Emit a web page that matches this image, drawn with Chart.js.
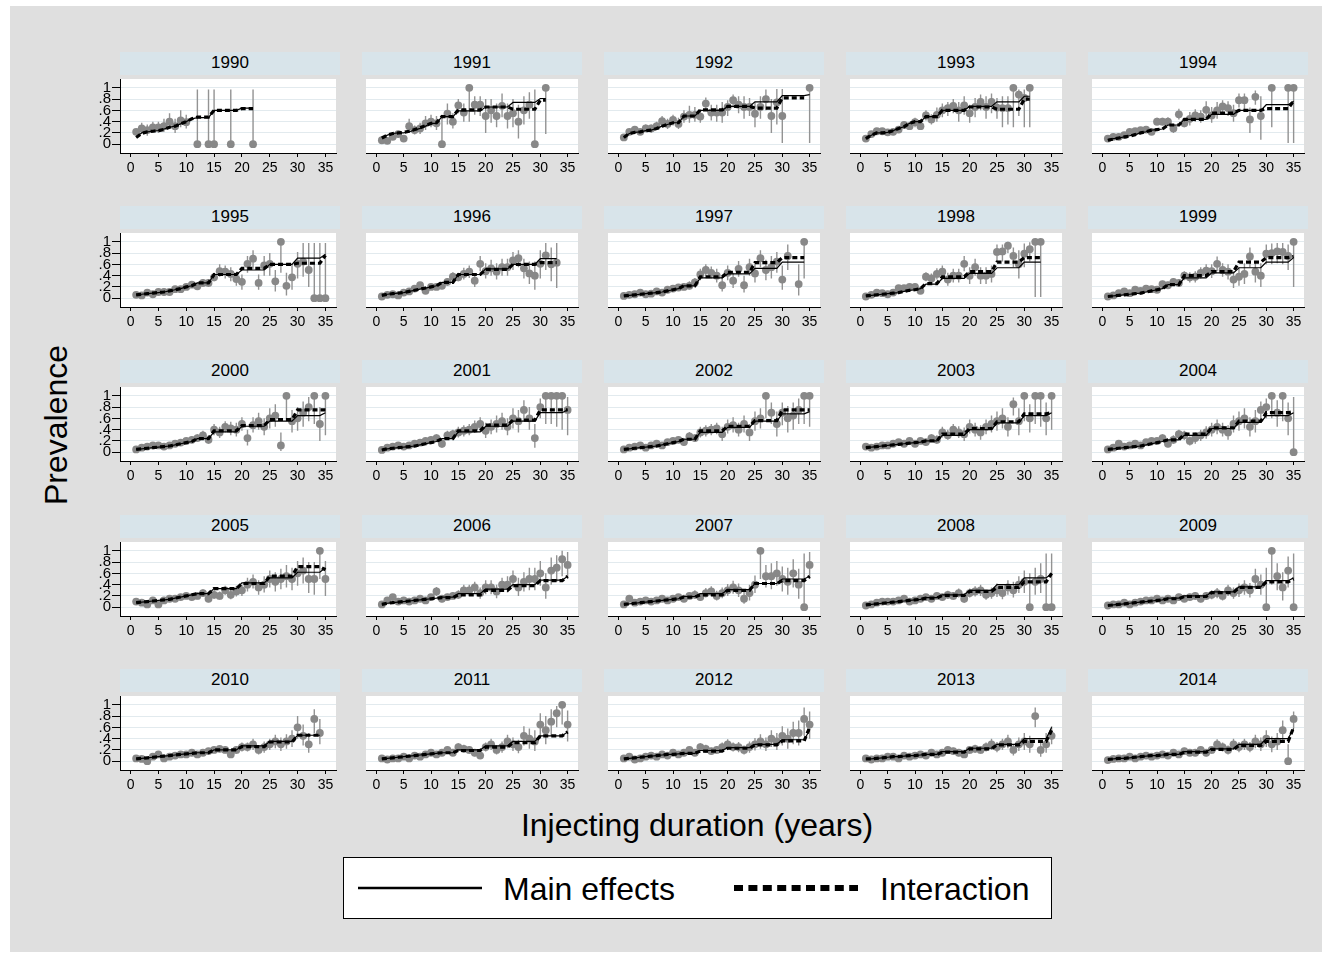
<!DOCTYPE html>
<html>
<head>
<meta charset="utf-8">
<title>Prevalence by injecting duration and year</title>
<script src="https://cdn.jsdelivr.net/npm/chart.js@4.4.1/dist/chart.umd.min.js"></script>
<style>
  html, body { margin: 0; padding: 0; background: #ffffff; }
  body { width: 1332px; height: 958px; position: relative; overflow: hidden;
         font-family: "Liberation Sans", Arial, Helvetica, sans-serif; color: #000; }
  #frame { position: absolute; left: 10px; top: 6px; width: 1312px; height: 946px; background: #dfdfdf; }
  .hdr { position: absolute; height: 23px; width: 220px; background: #d8e4ea; text-align: center;
         font-size: 17px; line-height: 21px; }
  canvas { position: absolute; }
  #ytitle { position: absolute; left: 56px; top: 425px; font-size: 32px; white-space: nowrap;
            transform: translate(-50%, -50%) rotate(-90deg); line-height: 1; }
  #xtitle { position: absolute; left: 697px; top: 825px; font-size: 32px; white-space: nowrap;
            transform: translate(-50%, -50%); line-height: 1; }
  #legend { position: absolute; left: 343px; top: 857px; width: 709px; height: 62px; box-sizing: border-box;
            background: #fff; border: 1px solid #000; }
  #legend svg { position: absolute; left: 0; top: 0; }
  #legend .lt { position: absolute; top: 31px; font-size: 32px; line-height: 1; transform: translateY(-50%); white-space: nowrap; }
</style>
</head>
<body>
<div id="frame"></div>
<div id="panels"></div>
<div id="ytitle">Prevalence</div>
<div id="xtitle">Injecting duration (years)</div>
<div id="legend">
  <svg width="709" height="62">
    <line x1="14" y1="30" x2="138" y2="30" stroke="#000" stroke-width="2.5"/>
    <line x1="390" y1="30" x2="514" y2="30" stroke="#000" stroke-width="6" stroke-dasharray="9 5.4"/>
  </svg>
  <div class="lt" style="left:159px">Main effects</div>
  <div class="lt" style="left:536px">Interaction</div>
</div>
<script>
// Survey years, one small panel each
const years = [1990, 1991, 1992, 1993, 1994, 1995, 1996, 1997, 1998, 1999,
               2000, 2001, 2002, 2003, 2004, 2005, 2006, 2007, 2008, 2009,
               2010, 2011, 2012, 2013, 2014];

// Axis ticks
const xTicks = [0, 5, 10, 15, 20, 25, 30, 35];
const yTicks = [0, 0.2, 0.4, 0.6, 0.8, 1];
const yTickLabels = ['0', '.2', '.4', '.6', '.8', '1'];

// Injecting-duration bands used by the fitted models (years)
const bandStart = [1, 2, 3, 4, 5, 6, 7, 8, 9, 10, 11, 12, 15, 20, 25, 30, 35];
const bandEnd   = [1, 2, 3, 4, 5, 6, 7, 8, 9, 10, 11, 14, 19, 24, 29, 34, 35];

// Observed prevalence (%) by duration 1..35, one row per year
const observedPct = [
  [22,28,25,30,30,32,40,32,42,39,null,0,null,0,0,null,null,0,null,null,null,0],
  [7,6,13,18,10,32,25,28,37,40,37,0,54,40,69,56,100,70,70,50,60,50,68,50,55,40,60,70,0,null,100],
  [12,22,26,22,28,28,32,41,36,43,36,49,52,52,49,72,56,56,56,66,78,70,66,66,54,66,80,50,74,50,null,null,null,null,100],
  [10,18,23,23,21,22,26,34,32,39,32,51,44,52,60,64,68,60,69,55,66,75,66,75,65,64,64,100,88,82,100],
  [10,13,13,16,22,23,25,26,22,40,40,40,28,53,37,45,51,49,61,51,60,67,64,55,78,78,44,84,50,null,100,null,null,100,100],
  [6,5,10,7,11,11,11,16,16,20,24,21,27,27,37,48,47,43,34,29,61,70,27,58,61,30,100,22,37,61,65,50,0,0,0],
  [3,6,7,5,10,12,17,23,13,20,20,22,29,38,37,43,47,31,61,48,53,47,55,55,67,71,53,44,40,61,76,60,63],
  [4,6,7,10,7,8,12,10,15,17,19,20,22,28,42,50,45,40,23,45,31,52,23,55,44,71,50,55,65,33,75,null,25,100],
  [3,6,10,9,7,10,18,18,20,20,13,38,35,43,47,33,40,40,61,40,55,40,40,43,82,83,93,75,60,79,87,100,100],
  [3,5,9,12,9,15,13,17,16,15,25,23,29,27,40,37,38,45,49,48,61,50,47,33,38,43,74,47,40,79,80,83,82,75,100],
  [5,8,10,12,12,10,12,15,17,20,22,25,30,22,40,35,45,42,40,50,25,48,55,45,60,65,12,100,55,60,70,80,100,50,100],
  [4,8,10,12,10,12,15,17,20,22,25,15,30,32,35,38,40,45,50,38,45,50,55,45,60,55,75,60,25,80,100,100,100,100,75],
  [5,8,10,12,8,12,15,12,18,20,22,18,28,25,35,38,40,42,32,45,48,40,50,35,55,60,100,70,50,70,60,65,75,100,100],
  [10,8,10,12,12,15,18,15,20,15,20,18,25,22,35,30,40,35,32,45,40,35,45,50,55,60,45,85,55,100,60,100,100,60,100],
  [5,8,15,10,12,15,12,18,20,20,25,15,22,32,30,20,25,30,35,40,45,40,35,50,55,60,45,55,75,80,100,70,100,60,0],
  [10,8,5,12,5,12,15,15,18,20,18,20,25,15,22,20,30,22,28,30,40,45,35,40,50,45,50,55,50,60,65,50,50,100,50],
  [5,12,18,10,12,10,12,15,12,18,28,15,18,20,22,30,30,35,25,35,35,28,40,40,50,35,45,50,50,60,35,65,70,85,75],
  [5,15,8,10,12,10,12,15,12,15,18,15,20,22,18,25,28,20,25,30,35,30,15,25,40,100,55,55,60,50,45,60,40,0,75],
  [3,5,8,10,10,10,12,15,10,12,15,18,15,20,18,22,20,25,15,25,28,30,22,25,30,25,35,30,40,45,0,45,50,0,0],
  [3,5,5,8,5,8,10,12,12,15,12,15,12,18,15,18,20,15,20,22,25,20,30,25,30,35,30,50,40,0,100,55,35,65,0],
  [5,4,0,8,12,5,8,10,12,12,15,12,15,18,20,22,20,12,20,25,25,30,20,25,30,35,30,35,40,60,45,30,75,50],
  [5,3,5,5,8,5,10,8,12,15,12,15,20,15,25,22,20,15,10,25,30,20,25,35,30,25,45,40,35,65,55,70,85,100,65],
  [5,8,3,5,8,10,8,12,10,15,12,15,20,15,25,22,18,20,25,30,25,25,20,25,30,35,30,40,35,45,40,50,50,75,65],
  [5,3,5,5,8,8,5,10,8,10,12,10,15,12,15,20,18,15,12,20,22,20,25,30,25,30,35,20,30,35,30,80,20,30,45],
  [2,4,5,5,8,5,8,10,8,10,12,10,15,12,18,15,15,20,15,20,30,25,20,30,25,30,25,35,30,40,30,35,55,0,75]
];

// Lower 95% confidence limit (%)
const lowerPct = [
  [17,20,15,20,20,22,30,20,30,28,null,0,null,0,0,null,null,0,null,null,null,0],
  [4,3,8,12,5,22,17,18,25,30,25,0,35,28,55,40,40,52,50,20,38,30,48,28,30,10,35,45,0,null,18],
  [8,17,20,17,22,20,25,32,27,33,27,38,38,40,38,60,42,40,38,50,65,55,45,50,30,45,60,20,35,2,null,null,null,null,2],
  [7,14,19,19,17,18,21,28,25,30,25,42,35,40,48,50,55,40,52,38,48,60,45,55,45,30,35,30,50,30,30],
  [7,10,10,12,18,19,20,21,17,33,33,32,20,44,30,33,40,38,45,38,45,55,50,40,65,62,20,70,8,null,30,null,null,2,2],
  [4,3,7,4,8,8,8,12,12,15,18,16,20,20,30,38,35,30,22,15,45,52,15,40,40,12,45,5,15,35,38,20,0,0,0],
  [1,4,4,3,7,9,13,18,9,15,15,16,22,30,30,33,36,20,48,35,40,33,40,40,50,55,35,25,15,35,50,30,18],
  [2,4,4,7,4,5,8,6,10,12,14,14,16,20,32,40,35,28,12,32,18,38,10,40,28,55,32,35,45,15,50,null,5,35],
  [1,4,7,6,4,7,13,13,15,15,8,30,26,33,36,22,28,28,48,25,40,25,25,28,65,65,80,55,35,55,65,2,2],
  [1,3,6,9,6,11,9,12,11,10,19,17,22,20,32,28,28,35,38,36,48,38,33,18,22,25,55,28,20,60,60,62,60,50,20],
  [3,5,7,9,9,7,8,11,12,15,16,18,22,15,30,25,35,30,28,38,12,35,40,30,42,45,2,55,35,38,45,55,50,20,30],
  [2,5,7,9,7,8,11,12,15,16,18,8,22,24,26,28,30,34,38,25,32,35,40,30,42,35,55,40,8,60,50,50,45,40,30],
  [3,5,7,9,5,8,11,8,13,15,16,12,20,18,26,28,30,32,20,33,35,28,35,20,38,42,60,50,28,48,35,40,50,50,45],
  [7,5,7,9,9,11,14,11,15,10,14,12,18,15,26,22,30,25,20,33,28,22,32,35,38,42,28,65,30,55,35,50,45,30,40],
  [3,5,11,7,9,11,8,13,15,15,18,9,15,24,22,12,15,20,24,28,32,28,22,35,38,42,28,35,55,60,60,45,55,30,0],
  [7,5,3,9,3,8,11,11,13,15,13,14,18,9,15,13,22,14,19,20,28,33,22,26,35,28,32,35,30,38,42,25,22,50,20],
  [3,8,13,7,9,7,8,11,8,13,20,9,12,14,15,20,20,25,15,23,23,16,28,26,35,20,28,30,30,38,15,40,45,55,50],
  [3,10,5,7,9,7,8,11,8,10,13,10,14,15,12,17,20,12,16,20,24,18,6,12,25,50,35,32,38,28,22,35,15,0,50],
  [1,3,5,7,7,7,8,11,7,8,11,13,10,14,12,15,13,17,8,17,19,20,13,15,18,14,22,17,25,25,0,22,25,0,0],
  [1,3,3,5,3,5,7,8,8,11,8,10,7,12,10,12,13,9,13,14,16,12,20,15,18,22,17,32,22,0,40,30,12,35,0],
  [3,2,0,5,8,3,5,7,8,8,11,8,10,13,14,16,14,7,13,17,17,20,12,15,20,23,18,22,25,40,28,15,50,30],
  [3,1,3,3,5,3,7,5,8,11,8,10,14,10,18,15,13,9,5,17,20,12,15,23,18,14,28,22,18,40,30,45,60,65,35],
  [3,5,1,3,5,7,5,8,7,11,8,10,14,10,18,15,12,13,17,21,17,16,12,15,19,22,18,25,20,28,22,30,28,45,40],
  [3,1,3,3,5,5,3,7,5,7,8,7,10,8,10,14,12,9,7,13,15,13,17,20,16,20,23,10,18,20,15,60,8,15,30],
  [1,2,3,3,5,3,5,7,5,7,8,7,10,8,12,10,10,14,9,13,21,17,12,20,16,20,16,23,18,25,16,20,38,0,58]
];

// Upper 95% confidence limit (%)
const upperPct = [
  [27,38,35,40,40,45,55,45,60,52,null,97,null,97,97,null,null,97,null,null,null,97],
  [11,10,18,24,15,45,33,38,50,52,50,52,72,55,80,72,100,85,85,80,80,72,90,72,80,70,85,92,97,null,100],
  [16,27,32,27,35,35,40,50,45,52,47,60,68,66,62,83,70,70,75,78,88,85,85,82,75,85,97,80,98,98,null,null,null,null,100],
  [13,22,27,27,25,26,31,40,40,47,40,60,53,65,72,75,80,75,85,70,82,88,85,90,82,85,85,100,97,97,100],
  [13,16,16,20,26,27,30,31,27,47,47,48,36,63,45,57,62,60,76,66,75,78,76,70,90,90,65,95,85,null,100,null,null,100,100],
  [9,8,13,10,15,15,15,20,20,25,30,27,34,34,45,60,58,55,45,42,75,85,42,75,80,50,100,45,60,82,98,98,98,98,98],
  [5,8,10,8,13,16,22,28,18,26,26,28,36,46,45,54,58,42,75,62,68,62,70,70,82,85,70,65,65,85,98,90,98],
  [6,8,10,13,10,11,16,14,20,22,25,26,30,36,52,60,56,52,38,58,45,66,40,70,62,85,68,75,82,58,95,null,60,100],
  [5,8,13,12,10,13,23,23,26,26,18,46,44,53,58,45,52,52,75,55,70,55,55,58,95,95,100,90,85,97,99,100,100],
  [5,7,12,15,12,19,17,22,21,20,31,29,36,34,48,46,48,55,60,60,74,62,60,48,55,62,90,65,62,95,97,98,98,95,100],
  [7,11,13,15,15,13,16,19,22,25,28,32,38,30,50,45,55,54,52,62,40,62,70,60,78,85,35,100,75,80,90,98,100,80,100],
  [6,11,13,15,13,16,19,22,25,28,32,22,38,40,45,48,50,56,62,52,58,65,70,60,78,75,92,80,50,95,100,100,100,100,98],
  [7,11,13,15,11,16,19,16,23,25,28,24,36,32,45,48,50,52,45,58,62,52,65,50,72,78,100,88,72,88,82,88,95,100,100],
  [13,11,13,15,15,19,22,19,25,20,26,24,32,30,45,40,50,46,44,58,52,48,58,65,72,78,62,97,78,100,85,100,100,88,100],
  [7,11,19,13,15,19,16,23,25,25,32,21,30,40,38,28,35,40,46,52,58,52,48,65,72,78,62,75,90,95,100,92,100,88,98],
  [13,11,8,15,8,16,19,19,23,25,23,26,32,21,30,28,38,30,38,40,52,58,48,55,65,62,68,75,70,82,88,80,80,100,82],
  [7,16,23,13,15,13,16,19,16,23,36,21,24,26,30,40,40,45,35,48,48,40,52,55,65,52,62,70,70,82,60,88,92,100,98],
  [7,20,11,13,15,13,16,19,16,20,23,21,26,30,25,34,37,29,35,41,47,42,30,40,56,100,75,78,82,72,70,85,68,95,98],
  [5,7,11,13,13,13,16,19,13,16,19,23,20,26,24,29,27,33,22,33,37,40,31,35,42,36,48,45,55,65,60,70,78,95,95],
  [5,7,7,11,7,11,13,16,16,19,16,20,17,24,20,24,27,21,27,30,34,28,40,35,42,48,43,68,58,70,100,78,62,90,95],
  [7,6,5,11,16,7,11,13,16,16,19,16,20,23,26,28,26,17,27,33,33,40,28,35,40,47,42,48,55,80,65,50,92,75],
  [7,5,7,7,11,7,13,11,16,19,16,20,26,20,32,29,27,21,18,33,40,28,35,47,42,38,62,58,55,85,80,92,98,100,90],
  [7,11,5,7,11,13,11,16,13,19,16,20,26,20,32,29,24,27,33,39,33,34,28,35,41,48,42,55,50,62,58,70,72,95,88],
  [7,5,7,7,11,11,7,13,11,13,16,13,20,16,20,26,24,21,17,27,29,27,33,40,34,40,47,30,42,50,45,95,35,50,62],
  [3,6,7,7,11,7,11,13,11,13,16,13,20,16,24,20,20,26,21,27,39,33,28,40,34,40,34,47,42,55,44,50,72,30,88]
];

// Predicted prevalence (%) per duration band: main-effects model
const mainEffectsPct = [
  [13,20,22,23,24,27,30,32,36,40,45,47,60,64,null,null,null],
  [11,16,19,20,20,22,25,28,32,37,37,49,59,66,74,81,null],
  [12,19,21,22,24,25,28,32,35,38,38,50,60,67,75,86,88],
  [10,16,20,20,21,24,28,31,37,40,40,49,60,67,75,85,null],
  [8,10,11,13,15,17,20,22,25,26,27,34,44,53,60,70,76],
  [6,7,8,9,10,11,13,15,17,20,22,27,42,50,60,71,78],
  [5,7,8,9,10,12,14,16,18,20,22,28,42,52,60,70,null],
  [4,5,6,7,8,9,10,11,13,15,17,22,36,43,53,64,null],
  [4,5,6,7,8,9,10,12,14,15,17,25,35,44,54,64,null],
  [3,4,5,6,7,8,9,11,13,15,17,24,36,45,54,64,72],
  [5,6,7,8,9,10,11,13,15,17,19,24,36,46,55,65,70],
  [4,6,7,8,9,10,11,13,15,17,19,24,36,46,55,70,75],
  [5,6,7,8,9,10,11,13,15,17,19,23,35,44,55,68,72],
  [8,9,10,11,12,13,14,15,16,17,18,20,30,40,52,65,70],
  [5,6,7,8,9,10,11,13,15,17,19,22,30,42,53,65,70],
  [8,9,10,11,12,13,14,16,18,20,22,24,33,43,52,62,70],
  [5,7,8,9,10,11,12,13,14,15,16,18,24,32,40,48,55],
  [5,6,7,8,9,10,11,12,13,14,15,19,24,31,42,50,55],
  [4,5,6,7,8,9,10,11,12,13,14,17,22,30,40,52,60],
  [3,4,5,6,7,8,9,10,11,12,13,16,20,27,36,47,52],
  [4,5,6,7,8,9,10,11,12,13,14,15,20,27,35,46,null],
  [4,5,6,7,8,9,10,11,12,13,14,15,20,27,35,45,52],
  [4,5,6,7,8,9,10,11,12,12,13,14,19,24,30,38,55],
  [4,4,5,6,7,8,8,9,10,10,11,12,17,23,30,40,60],
  [3,4,5,5,6,7,8,9,10,10,11,12,17,22,30,40,58]
];

// Predicted prevalence (%) per duration band: interaction model
const interactionPct = [
  [12,19,22,23,24,26,30,32,36,40,45,48,60,63,null,null,null],
  [11,16,19,20,21,23,26,29,33,37,38,49,61,66,62,78,null],
  [12,19,21,22,24,25,28,32,35,38,38,50,61,67,64,82,null],
  [10,16,20,20,21,24,28,31,37,40,40,49,60,66,62,80,null],
  [7,9,11,13,14,17,20,22,25,26,27,34,44,55,60,63,77],
  [6,7,8,9,10,11,13,15,17,20,22,27,42,53,60,62,76],
  [5,7,8,9,10,12,14,16,18,20,22,28,42,51,60,63,null],
  [4,5,6,7,8,9,10,11,13,15,17,22,38,46,63,72,null],
  [4,5,6,7,8,9,10,12,14,15,17,26,38,47,64,72,null],
  [3,4,5,6,7,8,9,11,13,15,17,24,40,47,64,72,74],
  [5,6,7,8,9,10,11,13,15,17,19,24,38,47,58,75,75],
  [4,6,7,8,9,10,11,13,15,17,19,24,38,48,57,75,75],
  [5,6,7,8,9,10,11,13,15,17,19,23,38,46,56,75,75],
  [8,9,10,11,12,13,14,15,16,17,18,20,32,42,54,68,70],
  [5,6,7,8,9,10,11,13,15,17,19,22,32,43,55,70,72],
  [8,9,10,11,12,13,14,16,18,20,22,24,33,42,55,72,66],
  [5,7,8,9,10,11,12,13,14,15,16,17,22,30,38,47,55],
  [5,6,7,8,9,10,11,12,13,14,15,18,22,30,42,47,55],
  [4,5,6,7,8,9,10,11,12,13,14,16,21,28,35,45,60],
  [3,4,5,6,7,8,9,10,11,12,13,15,19,26,35,45,50],
  [4,5,6,7,8,9,10,11,12,13,14,15,20,26,34,46,null],
  [4,5,6,7,8,9,10,11,12,13,14,15,19,25,33,45,52],
  [4,5,6,7,8,9,10,11,12,12,13,14,18,23,29,36,60],
  [4,4,5,6,7,8,8,9,10,10,11,12,16,22,29,35,55],
  [3,4,5,5,6,7,8,9,10,10,11,12,16,21,28,35,60]
];

// ---- layout of the 5 x 5 grid (pixels) ----
const COL_LEFT = [120, 362, 604, 846, 1088];
const ROW_TOP = [52, 206, 360, 515, 669];
const PLOT_W = 220, PLOT_H = 78, HEADER_H = 23, XAXIS_H = 28, YAXIS_W = 45;
const FONT = '"Liberation Sans", Arial, Helvetica, sans-serif';

// white plotting region behind the marks
const plotBackground = {
  id: 'plotBackground',
  beforeDraw(chart) {
    const a = chart.chartArea, ctx = chart.ctx;
    ctx.save();
    ctx.fillStyle = '#ffffff';
    ctx.fillRect(a.left, a.top, a.right - a.left, a.bottom - a.top);
    ctx.restore();
  }
};

function lastDuration(obs) {
  let last = 0;
  obs.forEach((v, i) => { if (v !== null && v !== undefined) last = i + 1; });
  return last;
}

// step line through the band levels, joined by straight segments between bands
function bandLine(levels, last) {
  const pts = [];
  for (let k = 0; k < bandStart.length; k++) {
    const v = levels[k];
    if (v === null || v === undefined || bandStart[k] > last) continue;
    pts.push({ x: bandStart[k], y: v / 100 });
    const e = Math.min(bandEnd[k], last);
    if (e > bandStart[k]) pts.push({ x: e, y: v / 100 });
  }
  return pts;
}

const panelsEl = document.getElementById('panels');

years.forEach((year, idx) => {
  const col = idx % 5, row = Math.floor(idx / 5);
  const left = COL_LEFT[col], top = ROW_TOP[row];
  const first = col === 0;

  const hdr = document.createElement('div');
  hdr.className = 'hdr';
  hdr.style.left = left + 'px';
  hdr.style.top = top + 'px';
  hdr.textContent = String(year);
  panelsEl.appendChild(hdr);

  const yW = first ? YAXIS_W : 0;
  const cv = document.createElement('canvas');
  cv.width = PLOT_W + yW;
  cv.height = PLOT_H + XAXIS_H;
  cv.style.left = (left - yW) + 'px';
  cv.style.top = (top + HEADER_H) + 'px';
  cv.style.width = cv.width + 'px';
  cv.style.height = cv.height + 'px';
  panelsEl.appendChild(cv);

  const obs = observedPct[idx], lo = lowerPct[idx], hi = upperPct[idx];
  const last = lastDuration(obs);

  const points = [], bars = [];
  obs.forEach((v, i) => {
    if (v === null || v === undefined) return;
    const d = i + 1;
    points.push({ x: d, y: v / 100 });
    bars.push({ x: d, y: lo[i] / 100 }, { x: d, y: hi[i] / 100 }, { x: d, y: null });
  });

  new Chart(cv, {
    type: 'line',
    data: {
      datasets: [
        { label: 'Interaction', data: bandLine(interactionPct[idx], last), borderColor: '#000',
          borderWidth: 3.2, borderDash: [5, 3], pointRadius: 0, fill: false, tension: 0, order: 0 },
        { label: 'Main effects', data: bandLine(mainEffectsPct[idx], last), borderColor: '#000',
          borderWidth: 1.2, pointRadius: 0, fill: false, tension: 0, order: 1 },
        { label: 'Observed', data: points, showLine: false, pointRadius: 3.9,
          pointBackgroundColor: '#888888', pointBorderWidth: 0, order: 2 },
        { label: '95% CI', data: bars, borderColor: '#939393', borderWidth: 1.4,
          pointRadius: 0, spanGaps: false, fill: false, order: 3 }
      ]
    },
    options: {
      responsive: false,
      animation: false,
      devicePixelRatio: 1,
      events: [],
      layout: { padding: 0 },
      plugins: { legend: { display: false }, tooltip: { enabled: false } },
      scales: {
        x: {
          type: 'linear', min: -1.9, max: 36.9,
          afterBuildTicks: s => { s.ticks = xTicks.map(v => ({ value: v })); },
          afterFit: s => { s.height = XAXIS_H; s.paddingLeft = 0; s.paddingRight = 0; },
          grid: { drawOnChartArea: false, drawTicks: true, tickLength: 4, tickColor: '#000', tickWidth: 1 },
          border: { display: true, color: '#000', width: 1 },
          ticks: { color: '#000', font: { family: FONT, size: 14 }, padding: 3,
                   maxRotation: 0, autoSkip: false, callback: v => String(v) }
        },
        y: {
          type: 'linear', min: -0.156, max: 1.156,
          afterBuildTicks: s => { s.ticks = yTicks.map(v => ({ value: v })); },
          afterFit: s => { s.width = yW; s.paddingTop = 0; s.paddingBottom = 0; },
          grid: { color: '#e2eaee', lineWidth: 1, drawTicks: first, tickLength: 8,
                  tickColor: '#000', tickWidth: 1 },
          border: { display: first, color: '#000', width: 1 },
          ticks: { display: first, color: '#000', font: { family: FONT, size: 15 }, padding: 1,
                   autoSkip: false,
                   callback: v => { const k = yTicks.findIndex(t => Math.abs(t - v) < 1e-9); return k >= 0 ? yTickLabels[k] : ''; } }
        }
      }
    },
    plugins: [plotBackground]
  });
});
</script>
</body>
</html>
